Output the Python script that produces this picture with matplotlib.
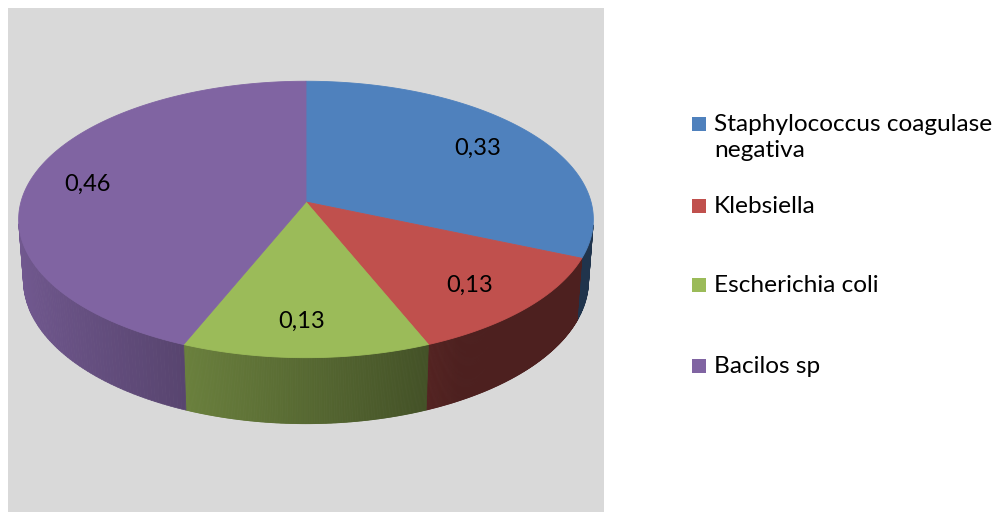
import numpy as np
import matplotlib.pyplot as plt
from matplotlib.patches import Rectangle, Polygon
from matplotlib.collections import PolyCollection
from matplotlib.colors import to_rgb

# data
names = ['Staphylococcus coagulase\nnegativa', 'Klebsiella', 'Escherichia coli', 'Bacilos sp']
values = [0.33, 0.13, 0.13, 0.46]
labels = ['0,33', '0,13', '0,13', '0,46']
colors = ['#4F81BD', '#C0504D', '#9BBB59', '#8064A2']

plt.rcParams['font.family'] = ['Lato', 'DejaVu Sans']

fig = plt.figure(figsize=(9.97, 5.12), dpi=100)
ax = fig.add_axes([0, 0, 1, 1])
ax.set_xlim(0, 997)
ax.set_ylim(512, 0)
ax.set_axis_off()

# gray plot area
ax.add_patch(Rectangle((8, 8), 596, 504, facecolor='#D9D9D9', edgecolor='none'))

# 3d pie by perspective projection of a disc
elev = np.radians(28.5)
D = 6.96
f = 1984.0
h = 0.245
cx, cy = 306, 202

def proj(x, y, z):
    d = D - (z * np.cos(elev) + y * np.sin(elev))
    u = y * np.cos(elev) - z * np.sin(elev)
    return cx + f * x / d, cy - f * u / d

frac = np.array(values) / np.sum(values)
edges = np.concatenate([[0], np.cumsum(frac)]) * 2 * np.pi

# side walls
polys = []
fcs = []
for i in range(len(values)):
    th = np.linspace(edges[i], edges[i + 1], 200)
    for a, b in zip(th[:-1], th[1:]):
        m = (a + b) / 2
        if np.cos(m) > -1 / (D * np.cos(elev)):
            continue
        xa, za = np.sin(a), -np.cos(a)
        xb, zb = np.sin(b), -np.cos(b)
        p1 = proj(xa, 0, za); p2 = proj(xb, 0, zb)
        p3 = proj(xb, -h, zb); p4 = proj(xa, -h, za)
        polys.append([p1, p2, p3, p4])
        k = np.clip(0.56 - 0.33 * np.sin(m), 0.40, 0.88)
        fcs.append(tuple(np.array(to_rgb(colors[i])) * k))
ax.add_collection(PolyCollection(polys, facecolors=fcs, edgecolors=fcs, linewidths=0.6))

# tops
for i in range(len(values)):
    th = np.linspace(edges[i], edges[i + 1], 300)
    pts = [proj(0, 0, 0)] + [proj(np.sin(t), 0, -np.cos(t)) for t in th]
    ax.add_patch(Polygon(pts, closed=True, facecolor=colors[i], edgecolor=colors[i], linewidth=0.6))

# data labels
for i in range(len(values)):
    m = (edges[i] + edges[i + 1]) / 2
    px, py = proj(0.78 * np.sin(m), 0, -0.78 * np.cos(m))
    ax.text(px - 4, py + 2, labels[i], fontsize=17, ha='center', va='center', color='black')

# legend
leg_y = [124, 206, 285, 366]
for i in range(len(names)):
    ax.add_patch(Rectangle((692, leg_y[i] - 7), 14, 14, facecolor=colors[i], edgecolor='none'))
    ax.text(714, leg_y[i] - 10, names[i], fontsize=17.6, ha='left', va='top',
            linespacing=1.3, color='black')

fig.savefig('out.png', dpi=100)
